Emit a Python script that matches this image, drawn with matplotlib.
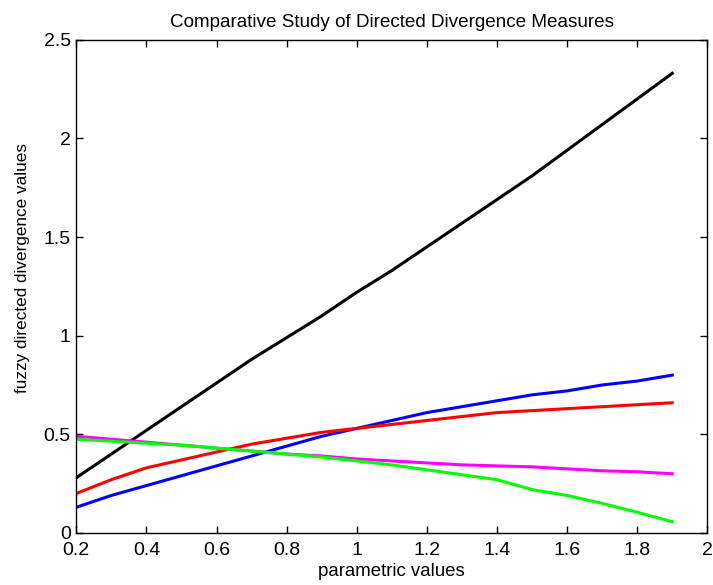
import matplotlib
matplotlib.use("Agg")
import matplotlib.pyplot as plt

plt.rcParams['font.family'] = ['Liberation Sans', 'DejaVu Sans']

# parametric values
alpha = [0.2, 0.3, 0.4, 0.5, 0.6, 0.7, 0.8, 0.9, 1.0,
         1.1, 1.2, 1.3, 1.4, 1.5, 1.6, 1.7, 1.8, 1.9]

black_vals = [0.28, 0.40, 0.52, 0.64, 0.76, 0.88, 0.99, 1.10, 1.22,
              1.33, 1.45, 1.57, 1.69, 1.81, 1.94, 2.07, 2.20, 2.33]
blue_vals = [0.13, 0.19, 0.24, 0.29, 0.34, 0.39, 0.44, 0.49, 0.53,
             0.57, 0.61, 0.64, 0.67, 0.70, 0.72, 0.75, 0.77, 0.80]
red_vals = [0.20, 0.27, 0.33, 0.37, 0.41, 0.45, 0.48, 0.51, 0.53,
            0.55, 0.57, 0.59, 0.61, 0.62, 0.63, 0.64, 0.65, 0.66]
magenta_vals = [0.49, 0.475, 0.46, 0.445, 0.43, 0.415, 0.40, 0.39, 0.375,
                0.365, 0.355, 0.345, 0.34, 0.335, 0.325, 0.315, 0.31, 0.30]
green_vals = [0.475, 0.465, 0.455, 0.445, 0.43, 0.415, 0.40, 0.385, 0.365,
              0.345, 0.32, 0.295, 0.27, 0.22, 0.19, 0.15, 0.105, 0.057]

xticks = [0.2, 0.4, 0.6, 0.8, 1, 1.2, 1.4, 1.6, 1.8, 2]
xtick_labels = ['0.2', '0.4', '0.6', '0.8', '1', '1.2', '1.4', '1.6', '1.8', '2']
yticks = [0, 0.5, 1, 1.5, 2, 2.5]
ytick_labels = ['0', '0.5', '1', '1.5', '2', '2.5']

fig = plt.figure(figsize=(7.13, 5.85), dpi=100)
ax = fig.add_axes([0.107, 0.089, 0.885, 0.843])

ax.plot(alpha, black_vals, color='black', linewidth=2.2)
ax.plot(alpha, blue_vals, color='#0000ff', linewidth=2.2)
ax.plot(alpha, red_vals, color='#ff0000', linewidth=2.2)
ax.plot(alpha, magenta_vals, color='#ff00ff', linewidth=2.2)
ax.plot(alpha, green_vals, color='#00ff00', linewidth=2.2)

ax.set_xlim(0.2, 2)
ax.set_ylim(0, 2.5)
ax.set_xticks(xticks)
ax.set_xticklabels(xtick_labels)
ax.set_yticks(yticks)
ax.set_yticklabels(ytick_labels)
ax.tick_params(direction='in', top=True, right=True, length=5, width=1,
               labelsize=14)
ax.tick_params(axis='x', pad=6.5)
ax.tick_params(axis='y', pad=4)
for s in ax.spines.values():
    s.set_linewidth(1)

ax.set_title("Comparative Study of Directed Divergence Measures", fontsize=13.6, pad=9)
ax.set_xlabel("parametric values", fontsize=13.4, labelpad=3)
ax.set_ylabel("fuzzy directed divergence values", fontsize=12.3)
ax.yaxis.set_label_coords(-0.074, 0.537)

fig.savefig("out.png", dpi=100)
